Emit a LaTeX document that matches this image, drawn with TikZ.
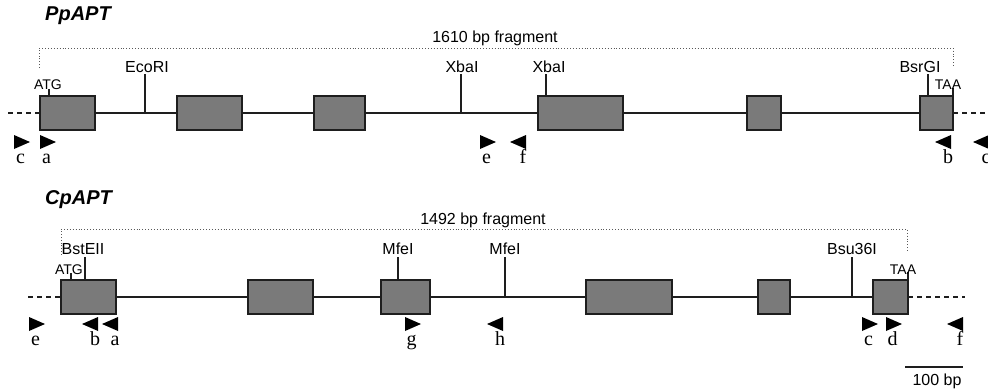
\documentclass[tikz,border=0pt]{standalone}
\usepackage{fontspec}
\setmainfont{Liberation Serif}
\newfontfamily\arialf{Liberation Sans}
\definecolor{exongray}{RGB}{122,122,122}
\definecolor{linegray}{RGB}{30,30,30}
\newcommand\fwdprimer[4]{%
  \fill[black] (#2-8,#3-7) -- (#2+8,#3) -- (#2-8,#3+7) -- cycle;
  \node[plabel] (#1) at (#2-1.5,#3+21) {#4};}
\newcommand\revprimer[4]{%
  \fill[black] (#2+8,#3-7) -- (#2-8,#3) -- (#2+8,#3+7) -- cycle;
  \node[plabel] (#1) at (#2+5,#3+21) {#4};}
\begin{document}
\begin{tikzpicture}[x=1pt,y=-1pt,
  exon/.style={draw=linegray, line width=1.5pt, fill=exongray, inner sep=0pt, outer sep=0pt, minimum height=34pt},
  intron/.style={line width=1.2pt, draw=linegray},
  flank/.style={line width=1.2pt, draw=linegray, dash pattern=on 5pt off 4pt},
  rsite/.style={font=\arialf\fontsize{16}{16}\selectfont, inner sep=0pt, anchor=base},
  codon/.style={font=\arialf\fontsize{14}{14}\selectfont, inner sep=0pt, anchor=base},
  sitetick/.style={line width=1.2pt, draw=linegray},
  fragbr/.style={draw=black!65, line width=0.9pt, dotted},
  plabel/.style={font=\fontsize{20}{20}\selectfont, inner sep=0pt, anchor=base},
  gtitle/.style={font=\arialf\bfseries\itshape\fontsize{20}{20}\selectfont, inner sep=0pt, anchor=base west},
]
\useasboundingbox[fill=white] (0,0) rectangle (988,391);

% ---------------- PpAPT ----------------
\node[gtitle] (ptitle) at (45,20) {PpAPT};

\node[exon, minimum width=55pt] (p1) at (67.5,113) {};
\node[exon, minimum width=65pt] (p2) at (209.5,113) {};
\node[exon, minimum width=51pt] (p3) at (339.5,113) {};
\node[exon, minimum width=85pt] (p4) at (580.5,113) {};
\node[exon, minimum width=34pt] (p5) at (764,113) {};
\node[exon, minimum width=33pt] (p6) at (936.5,113) {};

\coordinate (pL) at (8,113);
\coordinate (pR) at (995,113);
\draw[flank] (pL) -- (p1.west);
\draw[intron] (p1.east) -- (p2.west);
\draw[intron] (p2.east) -- (p3.west);
\draw[intron] (p3.east) -- (p4.west);
\draw[intron] (p4.east) -- (p5.west);
\draw[intron] (p5.east) -- (p6.west);
\draw[flank] (p6.east) -- (pR);

% fragment bracket
\coordinate (pbA) at (39,68);
\coordinate (pbB) at (39,48);
\coordinate (pbC) at (953,48);
\coordinate (pbD) at (953,68);
\draw[fragbr] (pbA) -- (pbB) -- (pbC) -- (pbD);
\node[rsite] (pfrag) at (495,42) {1610 bp fragment};

% sites
\coordinate (ecoB) at (145,113); \coordinate (ecoT) at (145,74);
\draw[sitetick] (ecoB) -- (ecoT);
\node[rsite] (eco) at (147,72) {EcoRI};
\coordinate (xbaB) at (461,113); \coordinate (xbaT) at (461,74);
\draw[sitetick] (xbaB) -- (xbaT);
\node[rsite] (xba) at (462,72) {XbaI};
\coordinate (xbbB) at (546,96); \coordinate (xbbT) at (546,74);
\draw[sitetick] (xbbB) -- (xbbT);
\node[rsite] (xbb) at (549,72) {XbaI};
\coordinate (bsrB) at (928,96); \coordinate (bsrT) at (928,74);
\draw[sitetick] (bsrB) -- (bsrT);
\node[rsite] (bsr) at (920,72) {BsrGI};
\coordinate (patgB) at (49,96); \coordinate (patgT) at (49,89);
\draw[sitetick] (patgB) -- (patgT);
\node[codon] (patg) at (48,89) {ATG};
\coordinate (ptaaB) at (953,96); \coordinate (ptaaT) at (953,88);
\draw[sitetick] (ptaaB) -- (ptaaT);
\node[codon] (ptaa) at (948,89) {TAA};

% primers
\fwdprimer{pc}{22}{142}{c}
\fwdprimer{pa}{48}{142}{a}
\fwdprimer{pe}{488}{142}{e}
\revprimer{pf}{518}{142}{f}
\revprimer{pb}{943}{142}{b}
\revprimer{pcc}{981}{142}{c}

% ---------------- CpAPT ----------------
\node[gtitle] (ctitle) at (45,204) {CpAPT};

\node[exon, minimum width=55pt] (c1) at (88.5,297) {};
\node[exon, minimum width=65pt] (c2) at (280.5,297) {};
\node[exon, minimum width=49pt] (c3) at (405.5,297) {};
\node[exon, minimum width=86pt] (c4) at (629,297) {};
\node[exon, minimum width=32pt] (c5) at (774,297) {};
\node[exon, minimum width=35pt] (c6) at (890.5,297) {};

\coordinate (cL) at (28,297);
\coordinate (cR) at (965,297);
\draw[flank] (cL) -- (c1.west);
\draw[intron] (c1.east) -- (c2.west);
\draw[intron] (c2.east) -- (c3.west);
\draw[intron] (c3.east) -- (c4.west);
\draw[intron] (c4.east) -- (c5.west);
\draw[intron] (c5.east) -- (c6.west);
\draw[flank] (c6.east) -- (cR);

\coordinate (cbA) at (61,255);
\coordinate (cbB) at (61,229);
\coordinate (cbC) at (907,229);
\coordinate (cbD) at (907,252);
\draw[fragbr] (cbA) -- (cbB) -- (cbC) -- (cbD);
\node[rsite] (cfrag) at (483,224) {1492 bp fragment};

\coordinate (bstB) at (85,280); \coordinate (bstT) at (85,257);
\draw[sitetick] (bstB) -- (bstT);
\node[rsite] (bst) at (83,254) {BstEII};
\coordinate (catgB) at (71,280); \coordinate (catgT) at (71,273);
\draw[sitetick] (catgB) -- (catgT);
\node[codon] (catg) at (69,274) {ATG};
\coordinate (mfaB) at (398,280); \coordinate (mfaT) at (398,257);
\draw[sitetick] (mfaB) -- (mfaT);
\node[rsite] (mfa) at (398,254) {MfeI};
\coordinate (mfbB) at (505,297); \coordinate (mfbT) at (505,257);
\draw[sitetick] (mfbB) -- (mfbT);
\node[rsite] (mfb) at (505,254) {MfeI};
\coordinate (bsuB) at (852,297); \coordinate (bsuT) at (852,257);
\draw[sitetick] (bsuB) -- (bsuT);
\node[rsite] (bsu) at (852,254) {Bsu36I};
\coordinate (ctaaB) at (908,280); \coordinate (ctaaT) at (908,272);
\draw[sitetick] (ctaaB) -- (ctaaT);
\node[codon] (ctaa) at (903,274) {TAA};

\fwdprimer{ce}{37}{324}{e}
\revprimer{cb}{90}{324}{b}
\revprimer{ca}{110}{324}{a}
\fwdprimer{cg}{413}{324}{g}
\revprimer{ch}{495}{324}{h}
\fwdprimer{cc}{870}{324}{c}
\fwdprimer{cd}{894}{324}{d}
\revprimer{cf}{955}{324}{f}

% scale bar
\coordinate (sbL) at (905,367);
\coordinate (sbR) at (963,367);
\draw[intron] (sbL) -- (sbR);
\node[rsite] (sbt) at (937,385) {100 bp};
\end{tikzpicture}
\end{document}
